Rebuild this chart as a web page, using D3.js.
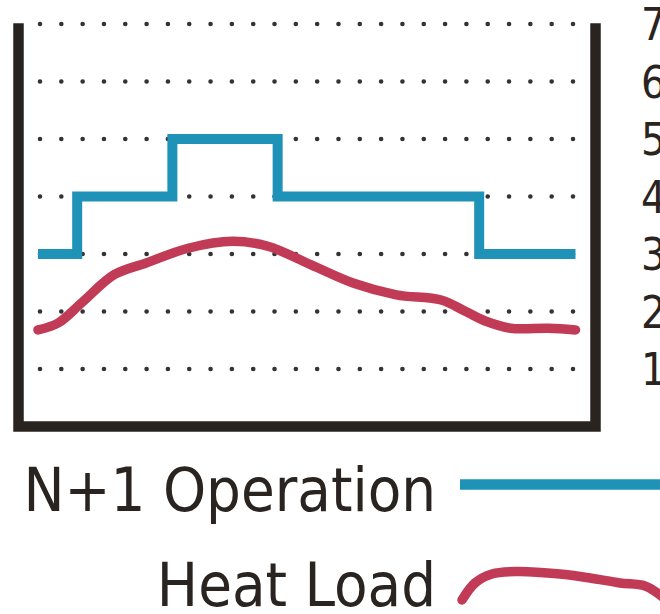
<!DOCTYPE html>
<html>
<head>
<meta charset="utf-8">
<script src="https://cdn.jsdelivr.net/npm/d3@7"></script>
<style>
  html, body { margin: 0; padding: 0; background: #ffffff; }
  svg { display: block; }
  text { font-family: "DejaVu Sans Condensed", "DejaVu Sans", sans-serif; font-stretch: condensed; fill: #2a2420; }
</style>
</head>
<body>
<svg id="chart" width="660" height="614"></svg>
<script>
// Hours across the day and the number of units running (N+1 scheme)
const stepHours = [0, 1.75, 6, 10.7, 19.7, 24];
const unitsRunning = [3, 4, 5, 4, 3, 3];

// Heat load profile over the same day, in unit-equivalents
const loadHours = [0, 0.9, 2, 3.4, 4.8, 6.7, 8.7, 10.3, 12.2, 14.1, 16, 18, 19.1, 20, 21.1, 22.8, 24];
const loadValues = [1.68, 1.80, 2.17, 2.64, 2.84, 3.10, 3.22, 3.13, 2.81, 2.49, 2.29, 2.20, 2.00, 1.83, 1.71, 1.71, 1.68];

// Axis ticks and legend entries
const tickValues = [1, 2, 3, 4, 5, 6, 7];
const seriesNames = ["N+1 Operation", "Heat Load"];

const BLUE = "#1e93b7";
const RED = "#c23b56";
const INK = "#2a2420";

const svg = d3.select("#chart");

const x = d3.scaleLinear().domain([0, 24]).range([38, 575.5]);
const y = d3.scaleLinear().domain([0, 7]).range([426.5, 24]);

// Dotted horizontal gridlines
svg.append("g")
  .selectAll("line")
  .data(tickValues)
  .join("line")
  .attr("x1", 40)
  .attr("x2", 574)
  .attr("y1", d => y(d))
  .attr("y2", d => y(d))
  .attr("stroke", "#333")
  .attr("stroke-width", 4.6)
  .attr("stroke-linecap", "round")
  .attr("stroke-dasharray", "0 21.32");

// Heat load curve
const loadPts = loadHours.map((h, i) => [h, loadValues[i]]);
svg.append("path")
  .datum(loadPts)
  .attr("fill", "none")
  .attr("stroke", RED)
  .attr("stroke-width", 9.5)
  .attr("stroke-linecap", "round")
  .attr("d", d3.line().x(d => x(d[0])).y(d => y(d[1])).curve(d3.curveCatmullRom.alpha(0.5)));

// Units running, stepped
const stepPts = stepHours.map((h, i) => [h, unitsRunning[i]]);
svg.append("path")
  .datum(stepPts)
  .attr("fill", "none")
  .attr("stroke", BLUE)
  .attr("stroke-width", 10)
  .attr("stroke-linejoin", "miter")
  .attr("stroke-linecap", "butt")
  .attr("d", d3.line().x(d => x(d[0])).y(d => y(d[1])).curve(d3.curveStepAfter));

// Frame: open-topped box
const [x0, x1] = [18.5, 595.5];
svg.append("path")
  .attr("fill", "none")
  .attr("stroke", INK)
  .attr("stroke-width", 10.5)
  .attr("stroke-linejoin", "miter")
  .attr("d", `M${x0},${y(7) - 0.8}V${y(0)}H${x1}V${y(7) - 0.8}`);

// Right-hand value labels
const axis = d3.axisRight(y).tickValues(tickValues).tickSize(0).tickPadding(0).tickFormat(d3.format("d"));
const ag = svg.append("g").attr("transform", "translate(641,0)").call(axis);
ag.select(".domain").remove();
ag.selectAll("text")
  .attr("font-size", 44)
  .attr("font-family", null)
  .attr("fill", INK)
  .attr("dy", "0.36em");

// Legend
const legend = svg.append("g");
legend.append("text")
  .attr("x", 436).attr("y", 511)
  .attr("text-anchor", "end")
  .attr("font-size", 61)
  .text(seriesNames[0]);
legend.append("line")
  .attr("x1", 460).attr("x2", 670)
  .attr("y1", 484.5).attr("y2", 484.5)
  .attr("stroke", BLUE)
  .attr("stroke-width", 10.5);

legend.append("text")
  .attr("x", 436).attr("y", 606)
  .attr("text-anchor", "end")
  .attr("font-size", 61)
  .text(seriesNames[1]);
// Wavy swatch for the heat load entry, relative to its anchor
const swatch = [[0, 0], [13, -17], [30, -26], [55, -28.5], [98, -26], [128, -22], [158, -17], [183, -14], [198, -5], [210, 6]];
legend.append("path")
  .attr("transform", "translate(462,600)")
  .attr("fill", "none")
  .attr("stroke", RED)
  .attr("stroke-width", 9.5)
  .attr("stroke-linecap", "round")
  .attr("d", d3.line().curve(d3.curveCatmullRom.alpha(0.5))(swatch));
</script>
</body>
</html>
